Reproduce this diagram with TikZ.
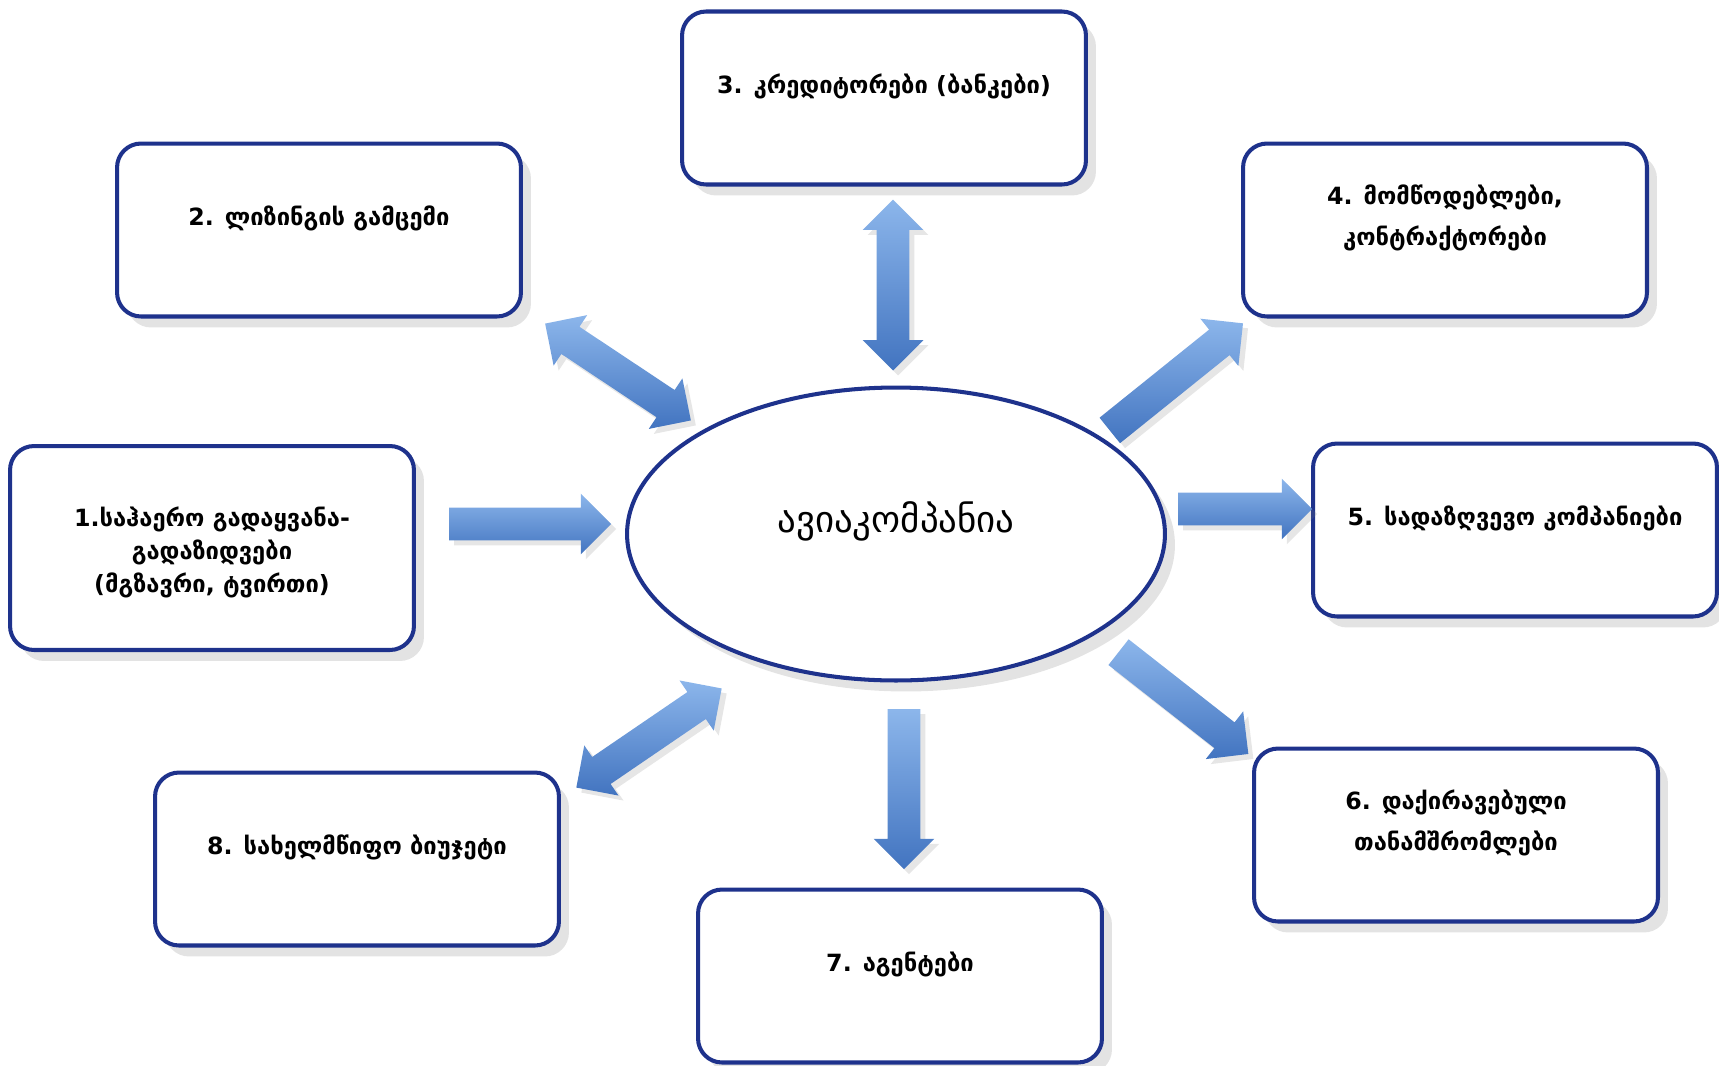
\documentclass[tikz,border=0pt]{standalone}
\usepackage{fontspec}
\setmainfont{DejaVu Sans}
\usepackage{tikz}
\usetikzlibrary{shapes.geometric, shapes.arrows, shadows, positioning, calc}

\definecolor{BoxNavy}{RGB}{30,50,140}
\definecolor{ArrowLight}{RGB}{140,182,235}
\definecolor{ArrowDark}{RGB}{66,116,192}

\tikzset{
	partner/.style={draw=BoxNavy, line width=2.3pt, fill=white, rounded corners=0.48cm,
		minimum width=8.08cm, minimum height=3.46cm,
		drop shadow={opacity=0.22, shadow xshift=0.2cm, shadow yshift=-0.22cm}},
	partnertext/.style={font=\bfseries\fontsize{13.5}{19}\selectfont, align=center},
	blockarrow/.style={inner xsep=0pt, inner ysep=0.32cm, text height=0pt, text depth=0pt,
		minimum width=1.2cm, top color=ArrowLight, bottom color=ArrowDark, draw=none,
		drop shadow={opacity=0.2, shadow xshift=0.1cm, shadow yshift=-0.1cm}},
	onearrow/.style={single arrow, single arrow head extend=0.28cm, blockarrow},
	twoarrow/.style={double arrow, double arrow head extend=0.28cm, blockarrow}
}

\begin{document}
\begin{tikzpicture}[x=0.02cm, y=-0.02cm]
	\useasboundingbox (0,0) rectangle (1719,1065);

	% centre
	\node[ellipse, draw=BoxNavy, line width=2.3pt, fill=white,
		minimum width=10.76cm, minimum height=5.86cm,
		drop shadow={opacity=0.22, shadow xshift=0.2cm, shadow yshift=-0.22cm}] (hub) at (896,534) {};
	\node[font=\fontsize{21}{24}\selectfont] (hubtext) at (896,521) {ავიაკომპანია};

	% boxes
	\node[partner, minimum height=4.08cm] (b1) at (212,548) {};
	\node[partner] (b2) at (319,230) {};
	\node[partner] (b3) at (884,98) {};
	\node[partner] (b4) at (1445,230) {};
	\node[partner] (b5) at (1515,530) {};
	\node[partner] (b6) at (1456,835) {};
	\node[partner] (b7) at (900,976) {};
	\node[partner] (b8) at (357,859) {};

	\node[partnertext] (t1) at ([yshift=-0.09cm]b1.center) {1.საჰაერო გადაყვანა-\\გადაზიდვები\\(მგზავრი, ტვირთი)};
	\node[partnertext] (t2) at ([yshift=0.24cm]b2.center) {2. ლიზინგის გამცემი};
	\node[partnertext] (t3) at ([yshift=0.24cm]b3.center) {3. კრედიტორები (ბანკები)};
	\node[partnertext, font=\bfseries\fontsize{13.5}{23}\selectfont] (t4) at ([yshift=0.24cm]b4.center) {4. მომწოდებლები,\\კონტრაქტორები};
	\node[partnertext] (t5) at ([yshift=0.24cm]b5.center) {5. სადაზღვევო კომპანიები};
	\node[partnertext, font=\bfseries\fontsize{13.5}{23}\selectfont] (t6) at ([yshift=0.24cm]b6.center) {6. დაქირავებული\\თანამშრომლები};
	\node[partnertext] (t7) at ([yshift=0.24cm]b7.center) {7. აგენტები};
	\node[partnertext] (t8) at ([yshift=0.24cm]b8.center) {8. სახელმწიფო ბიუჯეტი};

	% arrows
	\node[onearrow, minimum height=3.24cm] (a1) at (522,524) {};
	\node[twoarrow, minimum height=3.5cm, rotate=-33.6] (a2) at (618,372) {};
	\node[twoarrow, minimum height=3.42cm, rotate=-90] (a3) at (893,285) {};
	\node[onearrow, minimum height=3.42cm, rotate=38.8] (a4) at (1170,382) {};
	\node[onearrow, minimum height=2.68cm] (a5) at (1237,509) {};
	\node[onearrow, minimum height=3.3cm, rotate=-38.1] (a6) at (1177,698) {};
	\node[onearrow, minimum height=3.2cm, rotate=-90] (a7) at (904,781) {};
	\node[twoarrow, minimum height=3.52cm, rotate=34.3] (a8) at (649,738) {};
\end{tikzpicture}
\end{document}
